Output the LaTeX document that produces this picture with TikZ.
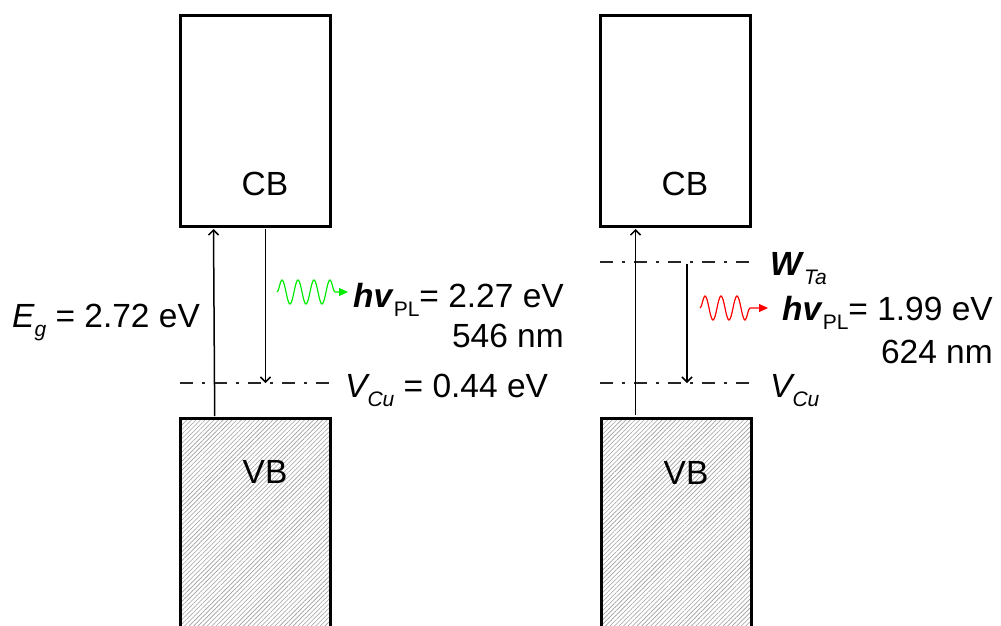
\documentclass[tikz,border=0pt]{standalone}
\usepackage{fontspec}
\setmainfont{Liberation Sans}
\usetikzlibrary{arrows.meta,patterns.meta,decorations.pathmorphing}
\newcommand\subtxt[1]{\raisebox{-9pt}{\fontsize{21}{21}\selectfont #1}}
\begin{document}
\begin{tikzpicture}[x=1pt,y=-1pt,
  band/.style={draw,line width=3pt,rectangle,inner sep=0pt,minimum width=150pt},
  cbbox/.style={band,minimum height=211pt,fill=white},
  vbbox/.style={band,minimum height=222pt,pattern={Lines[angle=45,distance=3.2pt,line width=0.6pt]},pattern color=black!38},
  lbl/.style={inner sep=0pt,font=\fontsize{33.5}{40}\selectfont},
  level/.style={line width=2.3pt,black!85,dash pattern=on 13pt off 9pt on 3pt off 9pt},
  trans/.style={line width=1.5pt,-{Straight Barb[length=5pt,width=10pt,line width=1.5pt]}},
  photon/.style={line width=1.2pt,decorate,decoration={snake,amplitude=12pt,segment length=16pt,post length=12pt},-{Triangle[length=9pt,width=8pt]}}
]
\useasboundingbox (0,0) rectangle (1001,625);
\clip (0,0) rectangle (1001,625);
% left diagram
\node[cbbox] (cbL) at (255,120.5) {};
\node[vbbox] (vbL) at (255,529) {};
\node[lbl,anchor=base] (cbLt) at (265,195) {CB};
\node[lbl,anchor=base] (vbLt) at (265,483) {VB};
\coordinate (vcuL1) at (180,383);
\coordinate (vcuL2) at (330,383);
\draw[level] (vcuL1) -- (vcuL2);
\path (vbL.north west) ++(35,-1.5) coordinate (upL1);
\path (cbL.south west) ++(35,1.5) coordinate (upL2);
\draw[trans] (upL1) -- (upL2);
\path (cbL.south west) ++(87,1.5) coordinate (dnL1);
\draw[trans] (dnL1) -- (dnL1 |- vcuL1);
\coordinate (wgL1) at (277,292);
\coordinate (wgL2) at (348,292);
\draw[photon,color={rgb,255:red,0;green,235;blue,0}] (wgL1) -- (wgL2);
\node[lbl,anchor=base west] (egL) at (12,327) {{\itshape E}\subtxt{\itshape g} = 2.72 eV};
\node[lbl,anchor=base west] (vcuLt) at (345,397) {{\itshape V}\subtxt{\itshape Cu} = 0.44 eV};
\node[lbl,anchor=base east,align=right] (hvL) at (564,347) {\textbf{\textit{hv}}\subtxt{PL}= 2.27 eV\\546 nm};
% right diagram
\node[cbbox] (cbR) at (675,120.5) {};
\node[vbbox] (vbR) at (676,529) {};
\node[lbl,anchor=base] (cbRt) at (685,195) {CB};
\node[lbl,anchor=base] (vbRt) at (686,484) {VB};
\coordinate (wtaR1) at (600,262);
\coordinate (wtaR2) at (750,262);
\coordinate (vcuR1) at (600,383);
\coordinate (vcuR2) at (750,383);
\draw[level] (wtaR1) -- (wtaR2);
\draw[level] (vcuR1) -- (vcuR2);
\path (vbR.north west) ++(36,-1.5) coordinate (upR1);
\path (cbR.south west) ++(37,1.5) coordinate (upR2);
\draw[trans] (upR1) -- (upR1 |- upR2);
\coordinate (dnR1) at (687,264);
\draw[trans] (dnR1) -- (dnR1 |- vcuR1);
\coordinate (wgR1) at (700,308);
\coordinate (wgR2) at (768,308);
\draw[photon,red] (wgR1) -- (wgR2);
\node[lbl,anchor=base west] (wtaRt) at (770,275) {\textbf{\textit{W}}\subtxt{\itshape Ta}};
\node[lbl,anchor=base west] (vcuRt) at (770,397) {{\itshape V}\subtxt{\itshape Cu}};
\node[lbl,anchor=base east,align=right] (hvR) at (993,363) {\textbf{\textit{hv}}\subtxt{PL}= 1.99 eV\\[3pt]624 nm};
\end{tikzpicture}
\end{document}
